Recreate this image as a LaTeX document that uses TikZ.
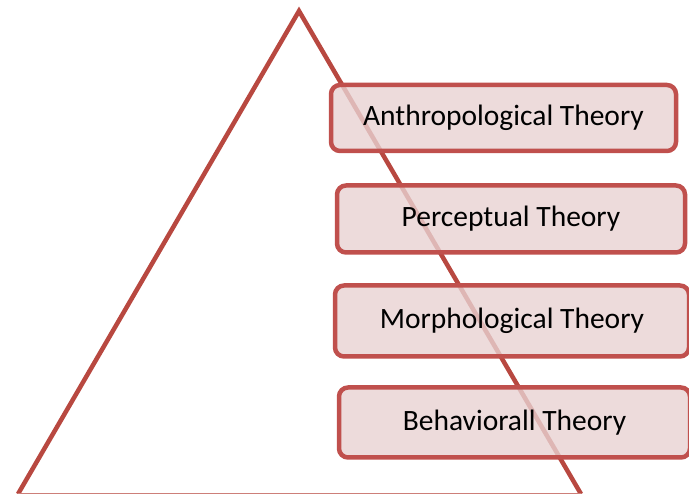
\documentclass[tikz,border=0pt]{standalone}
\usepackage{fontspec}
\setmainfont{Carlito}
\definecolor{boxred}{RGB}{192,80,77}
\definecolor{trired}{RGB}{184,72,64}
\definecolor{boxfill}{RGB}{232,210,210}

\begin{document}
\begin{tikzpicture}[x=1pt,y=-1pt]
\tikzstyle{theory}=[rectangle, rounded corners=9pt, draw=boxred, line width=4.5pt, fill=boxfill, fill opacity=0.8, text opacity=1, font=\fontsize{29.5}{34}\selectfont, inner sep=0pt]
\tikzstyle{side}=[draw=trired, line width=4.5pt]
\tikzstyle{base}=[draw=trired!70, line width=1.5pt]
\useasboundingbox (0,0) rectangle (689,494);
\coordinate (apex) at (299,11);
\coordinate (left) at (18,494);
\coordinate (right) at (581,494);
\draw [side] (left) -- (apex) -- (right);
\draw [base] (left) -- (right);
\node (anth) [theory, minimum width=345pt, minimum height=66pt] at (503.5,118) {Anthropological Theory};
\node (perc) [theory, minimum width=348pt, minimum height=67pt] at (511,219) {Perceptual Theory};
\node (morph) [theory, minimum width=354pt, minimum height=71pt] at (512,321) {Morphological Theory};
\node (behav) [theory, minimum width=351pt, minimum height=70pt] at (514.5,422.5) {Behaviorall Theory};
\end{tikzpicture}
\end{document}
